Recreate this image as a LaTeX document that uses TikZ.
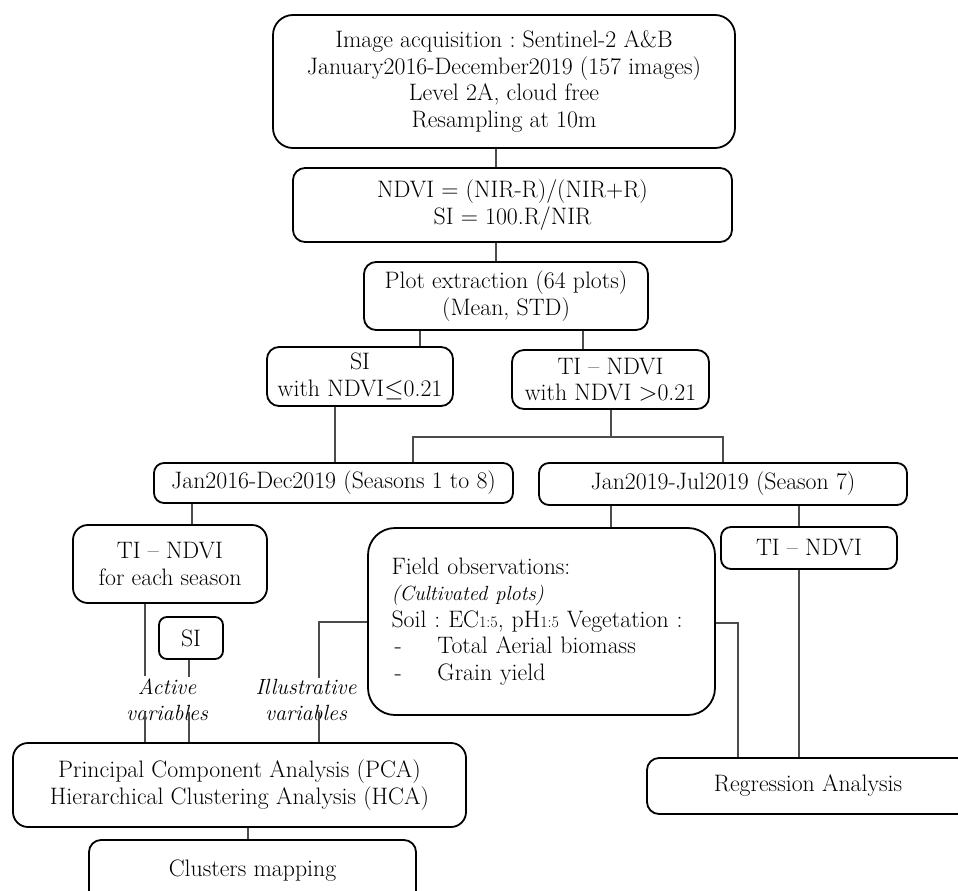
\documentclass[tikz,border=0pt]{standalone}
\usetikzlibrary{calc}
\newcommand\fsz{\fontsize{23.8}{26.5}\selectfont\frenchspacing}
\newcommand\lblfs{\fontsize{22}{26}\selectfont}
\newcommand\smallfs{\fontsize{16}{18}\selectfont}
\begin{document}
\begin{tikzpicture}[x=1pt,y=-1pt,
 box/.style={draw=black, line width=1.8pt, rounded corners=12pt, inner sep=0pt, align=center, font=\fsz, text=black},
 conn/.style={draw=black!70, line width=1.2pt},
 lbl/.style={font=\lblfs\itshape, align=center, inner sep=0pt, text=black}]
\useasboundingbox (0,0) rectangle (958,891);
\clip (0,0) rectangle (958,891);
% boxes
\node[box, rounded corners=20pt, minimum width=462pt, minimum height=133pt] (acq) at (504,81.5)
 {Image acquisition : Sentinel-2 A\&B\\January2016-December2019 (157 images)\\Level 2A, cloud free\\Resampling at 10m};
\node[box, minimum width=439pt, minimum height=74pt] (ndvi) at (512.5,205)
 {NDVI = (NIR-R)/(NIR+R)\\SI = 100.R/NIR};
\node[box, minimum width=284pt, minimum height=68pt] (plot) at (506,296)
 {Plot extraction (64 plots)\\(Mean, STD)};
\node[box, minimum width=186pt, minimum height=59pt] (si) at (360,376.5)
 {SI\\with NDVI$\leq$0.21};
\node[box, minimum width=197pt, minimum height=59pt] (ti) at (610.5,379.5)
 {TI -- NDVI\\with NDVI $>$0.21};
\node[box, rounded corners=10pt, minimum width=359pt, minimum height=40pt] (jan16) at (333.5,483)
 {Jan2016-Dec2019 (Seasons 1 to 8)};
\node[box, rounded corners=10pt, minimum width=368pt, minimum height=42pt] (jan19) at (723,484)
 {Jan2019-Jul2019 (Season 7)};
\node[box, rounded corners=15pt, minimum width=194pt, minimum height=78pt] (tis) at (170,564)
 {TI -- NDVI\\for each season};
\node[box, rounded corners=8pt, minimum width=64pt, minimum height=42pt] (sis) at (191,638)
 {SI};
\node[box, rounded corners=27pt, minimum width=347pt, minimum height=187pt, align=left, text width=300pt] (field) at (541.5,621.5)
 {Field observations:\\{\fontsize{20.5}{26.5}\selectfont\itshape (Cultivated plots)}\\Soil : EC{\smallfs 1:5}, pH{\smallfs 1:5} Vegetation :\\\makebox[46pt][l]{\hspace{3pt}-}Total Aerial biomass\\\makebox[46pt][l]{\hspace{3pt}-}Grain yield};
\node[box, rounded corners=10pt, minimum width=176pt, minimum height=42pt] (tir) at (809,548)
 {TI -- NDVI};
\node[box, minimum width=322pt, minimum height=56pt] (reg) at (808,786)
 {Regression Analysis};
\node[box, rounded corners=15pt, minimum width=453pt, minimum height=84pt] (pca) at (239.5,785)
 {Principal Component Analysis (PCA)\\Hierarchical Clustering Analysis (HCA)};
\node[box, minimum width=327pt, minimum height=80pt] (clu) at (252.5,880)
 {\raisebox{24pt}{Clusters mapping}};
% labels
\node[lbl] (act) at (167,700) {Active\\variables};
\node[lbl] (ill) at (306,700) {Illustrative\\variables};
% coordinates
\coordinate (split) at (611,437);
\coordinate (a1top) at (145,676);
\coordinate (a1bot) at (145,712);
\coordinate (a2top) at (189,677);
\coordinate (a2bot) at (189,712);
\coordinate (i1top) at (319,678);
\coordinate (i1bot) at (319,712);
% connectors
\draw[conn] (acq.south -| 496,0) -- (ndvi.north -| 496,0);
\draw[conn] (ndvi.south -| 496,0) -- (plot.north -| 496,0);
\draw[conn] (plot.south -| 420,0) -- (si.north -| 420,0);
\draw[conn] (plot.south -| 583,0) -- (ti.north -| 583,0);
\draw[conn] (ti.south -| split) -- (split);
\draw[conn] (jan16.north -| 413,0) |- (split) -| (jan19.north -| 723,0);
\draw[conn] (si.south -| 335,0) -- (jan16.north -| 335,0);
\draw[conn] (jan16.south -| 192,0) -- (tis.north -| 192,0);
\draw[conn] (jan19.south -| 611,0) -- (field.north -| 611,0);
\draw[conn] (jan19.south -| 799,0) -- (tir.north -| 799,0);
\draw[conn] (tir.south -| 799,0) -- (reg.north -| 799,0);
\draw[conn] (field.east |- 0,623) -| (reg.north -| 738,0);
\draw[conn] (field.west |- 0,622) -| (i1top);
\draw[conn] (i1bot) -- (pca.north -| i1bot);
\draw[conn] (tis.south -| a1top) -- (a1top);
\draw[conn] (a1bot) -- (pca.north -| a1bot);
\draw[conn] (sis.south -| a2top) -- (a2top);
\draw[conn] (a2bot) -- (pca.north -| a2bot);
\draw[conn] (pca.south -| 248,0) -- (clu.north -| 248,0);
\end{tikzpicture}
\end{document}
